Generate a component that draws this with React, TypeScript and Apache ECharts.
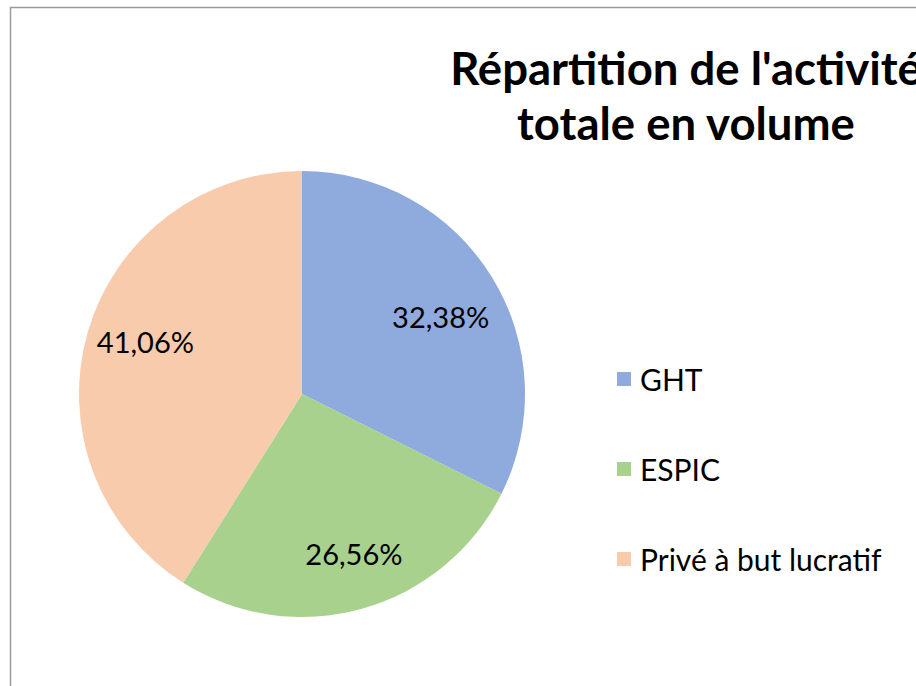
import React, { useEffect, useRef } from "react";
import * as echarts from "echarts";

const categories = ["GHT", "ESPIC", "Privé à but lucratif"];
const values = [32.38, 26.56, 41.06];
const colors = ["#8faadc", "#a9d18e", "#f8cbad"];
const titleText = "Répartition de l'activité\ntotale en volume";
// small nudges of the data labels (style only)
const labelNudges = [[0, 8], [8, 3], [0, -7]];

const FONT = "Lato, 'Noto Sans', sans-serif";

export default function App() {
  const ref = useRef<HTMLDivElement>(null);
  useEffect(() => {
    if (!ref.current) return;
    const chart = echarts.init(ref.current, null, { renderer: "svg" });
    const data = categories.map((name, i) => ({
      name,
      value: values[i],
      itemStyle: { color: colors[i] },
    }));
    chart.setOption({
      animation: false,
      backgroundColor: "#ffffff",
      textStyle: { fontFamily: FONT },
      graphic: [
        {
          type: "rect",
          shape: { x: 10.5, y: 7.5, width: 1000, height: 1000 },
          style: { fill: "none", stroke: "#9a9a9a", lineWidth: 1.5 },
          silent: true,
        },
        {
          type: "text",
          x: 686,
          y: 40,
          style: {
            text: titleText,
            textAlign: "center",
            textVerticalAlign: "top",
            font: `bold 45.5px ${FONT}`,
            lineHeight: 55,
            fill: "#000",
          },
          silent: true,
        },
      ],
      legend: {
        orient: "vertical",
        left: 612,
        top: 358,
        icon: "rect",
        itemWidth: 14,
        itemHeight: 14,
        itemGap: 58,
        selectedMode: false,
        textStyle: { fontSize: 30, fontFamily: FONT, color: "#000", lineHeight: 32, padding: [0, 0, 0, 4] },
        data: categories,
      },
      series: [
        {
          type: "pie",
          center: [302, 394],
          radius: [0, 223],
          startAngle: 90,
          clockwise: true,
          silent: true,
          label: { show: false },
          labelLine: { show: false },
          itemStyle: { borderWidth: 0 },
          data,
        },
        {
          type: "pie",
          center: [302, 394],
          radius: [100, 220],
          startAngle: 90,
          clockwise: true,
          silent: true,
          legendHoverLink: false,
          itemStyle: { color: "rgba(0,0,0,0)", borderWidth: 0 },
          label: {
            show: true,
            position: "inside",
            formatter: (p: any) => p.value.toFixed(2).replace(".", ",") + "%",
            fontSize: 29,
            fontFamily: FONT,
            color: "#000",
          },
          labelLine: { show: false },
          data: categories.map((name, i) => ({
            name: name + " ",
            value: values[i],
            label: { offset: labelNudges[i] },
          })),
        },
      ],
    });
    return () => chart.dispose();
  }, []);
  return (
    <div style={{ position: "absolute", left: 0, top: 0, width: 916, height: 686 }} ref={ref} />
  );
}
